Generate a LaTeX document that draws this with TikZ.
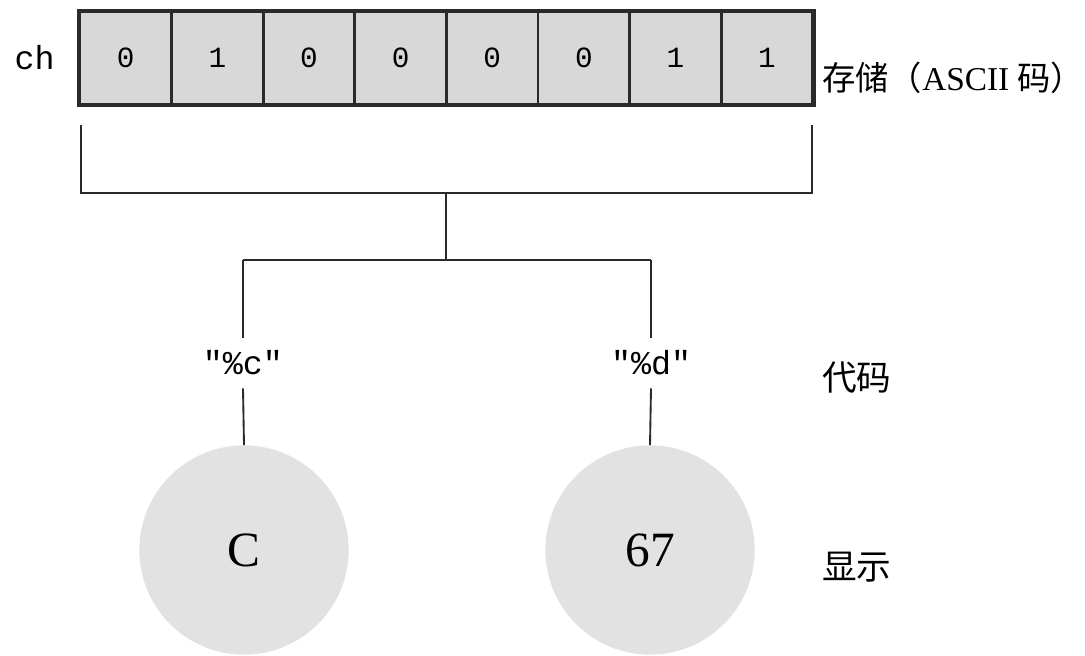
\documentclass[tikz,border=0pt]{standalone}
\usepackage{fontspec}
\setmainfont{Liberation Serif}
\setmonofont{Liberation Mono}
\newfontfamily\cjk{Noto Sans CJK SC}
\definecolor{ink}{HTML}{2A2A2A}
\definecolor{cellfill}{HTML}{D8D8D8}
\definecolor{discfill}{HTML}{E2E2E2}
\tikzset{
  bitcell/.style={draw=ink, fill=cellfill, line width=2.2pt, minimum width=68.7pt, minimum height=69pt, inner sep=0pt, font=\ttfamily\fontsize{22}{24}\selectfont},
  conn/.style={draw=ink, line width=1.4pt},
  fmt/.style={inner sep=0pt, minimum height=37.5pt, font=\ttfamily\fontsize{25}{27}\selectfont},
  disc/.style={circle, fill=discfill, minimum size=157pt, inner sep=0pt, font=\fontsize{37}{40}\selectfont},
  side/.style={anchor=west, inner sep=0pt, font=\fontsize{25}{28}\selectfont},
}
\begin{document}
\begin{tikzpicture}[x=0.75pt, y=-0.75pt]
\useasboundingbox (0,0) rectangle (1085,656);
% register cells
\foreach \b [count=\i] in {0,1,0,0,0,0,1,1} {
  \node[bitcell] (c\i) at ({80+91.6*(\i-0.5)},58) {\b};
}
\draw[draw=ink, line width=3pt] (c1.north west) rectangle (c8.south east);
\node[anchor=east, inner sep=0pt, font=\ttfamily\fontsize{25}{27}\selectfont] (ch) at (55,58) {ch};
\node[side] (store) at (822,78) {{\cjk 存储（}ASCII {\cjk 码）}};
% bracket
\coordinate (bl) at (81,125);
\coordinate (blb) at (81,193);
\coordinate (br) at (812,125);
\coordinate (brb) at (812,193);
\coordinate (bm) at (446,193);
\coordinate (bm2) at (446,260);
\coordinate (sl) at (243,260);
\coordinate (sr) at (651,260);
\draw[conn] (bl) -- (blb) -- (brb) -- (br);
\draw[conn] (bm) -- (bm2);
\draw[conn] (sl) -- (sr);
% format labels
\node[fmt] (fc) at (243,363) {"\%c"};
\node[fmt] (fd) at (651,363) {"\%d"};
\draw[conn] (sl) -- (fc.north);
\draw[conn] (sr) -- (fd.north);
% discs
\node[disc] (dc) at (244,550) {C};
\node[disc] (dd) at (650,550) {67};
\draw[conn] (fc.south) -- (dc.north);
\draw[conn] (fd.south) -- (dd.north);
% side labels
\node[side, font=\fontsize{26}{28}\selectfont] (code) at (822,378) {\cjk 代码};
\node[side, font=\fontsize{26}{28}\selectfont] (show) at (822,567) {\cjk 显示};
\end{tikzpicture}
\end{document}
